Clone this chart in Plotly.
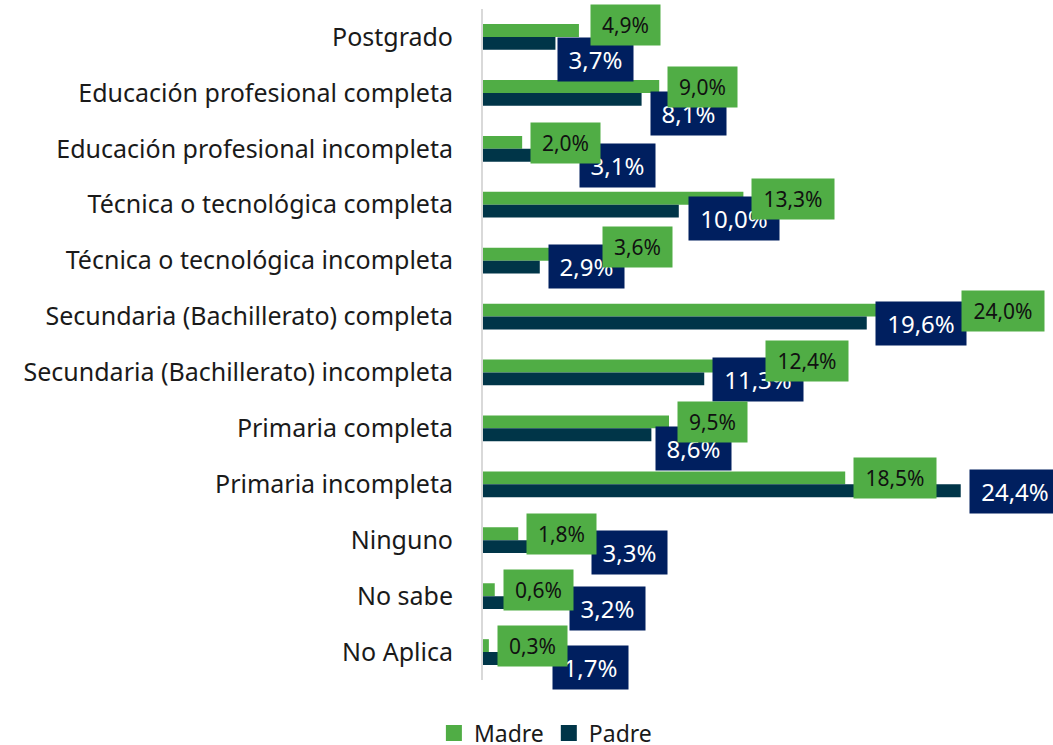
import plotly.graph_objects as go

categories = [
    "Postgrado",
    "Educación profesional completa",
    "Educación profesional incompleta",
    "Técnica o tecnológica completa",
    "Técnica o tecnológica incompleta",
    "Secundaria (Bachillerato) completa",
    "Secundaria (Bachillerato) incompleta",
    "Primaria completa",
    "Primaria incompleta",
    "Ninguno",
    "No sabe",
    "No Aplica",
]
madre = [4.9, 9.0, 2.0, 13.3, 3.6, 24.0, 12.4, 9.5, 18.5, 1.8, 0.6, 0.3]
padre = [3.7, 8.1, 3.1, 10.0, 2.9, 19.6, 11.3, 8.6, 24.4, 3.3, 3.2, 1.7]
series_names = ["Madre", "Padre"]

GREEN = "#50AD45"
TEAL = "#003548"
NAVY = "#001F5F"
FONT = "Noto Sans"

# label nudges (px: right, down) relative to default placement
madre_nudge = {
    "Postgrado": (3, -6),
    "Técnica o tecnológica incompleta": (41, -8),
    "Secundaria (Bachillerato) incompleta": (31, -5),
}
padre_nudge = {
    "Postgrado": (-6, 16),
    "Educación profesional completa": (0, 14),
    "Educación profesional incompleta": (27, 10),
    "Técnica o tecnológica completa": (1, 7),
    "Técnica o tecnológica incompleta": (0, -1),
    "Primaria completa": (-4, 13),
    "Ninguno": (35, 5),
    "No sabe": (15, 5),
    "No Aplica": (28, 8),
}


def fmt(v):
    return f"{v:.1f}%".replace(".", ",")


fig = go.Figure()
fig.add_trace(go.Bar(y=categories, x=madre, name=series_names[0], orientation="h",
                     showlegend=False, marker=dict(color=GREEN, line=dict(width=0))))
fig.add_trace(go.Bar(y=categories, x=padre, name=series_names[1], orientation="h",
                     showlegend=False, marker=dict(color=TEAL, line=dict(width=0))))
# legend entries with larger square swatches
for name, col in zip(series_names, [GREEN, TEAL]):
    fig.add_trace(go.Scatter(x=[None], y=[None], mode="markers", name=name,
                             marker=dict(symbol="square", size=16, color=col,
                                         line=dict(width=0))))

annotations = []
# Padre labels first (drawn beneath Madre labels)
for c, v in zip(categories, padre):
    dx, dy = padre_nudge.get(c, (0, 0))
    t = fmt(v)
    annotations.append(dict(
        x=v, y=c, xref="x", yref="y", text=t, showarrow=False,
        xanchor="left", yanchor="middle", xshift=8 + dx, yshift=-(7 + dy),
        bgcolor=NAVY, font=dict(family=FONT, size=24, color="white"),
        width=13 + 15 * len(t), height=41, align="center", valign="middle",
    ))
for c, v in zip(categories, madre):
    dx, dy = madre_nudge.get(c, (0, 0))
    t = fmt(v)
    annotations.append(dict(
        x=v, y=c, xref="x", yref="y", text=t, showarrow=False,
        xanchor="left", yanchor="middle", xshift=8 + dx, yshift=-(-6 + dy),
        bgcolor=GREEN, font=dict(family=FONT, size=21, color="#111111"),
        width=15 + 13 * len(t), height=38, align="center", valign="middle",
    ))

fig.update_layout(
    width=1053, height=745,
    margin=dict(l=483, r=12, t=9, b=65, autoexpand=False),
    paper_bgcolor="white", plot_bgcolor="white",
    barmode="group", bargap=0.54, bargroupgap=0,
    font=dict(family=FONT, size=25, color="#1a1a1a"),
    showlegend=True,
    legend=dict(orientation="h", x=-0.088, xanchor="left", y=-0.079, yanchor="middle",
                traceorder="normal", font=dict(size=23, color="#1a1a1a"),
                itemwidth=30),
    annotations=annotations,
)
fig.update_xaxes(range=[0, 28.5], autorange=False, visible=False,
                 showgrid=False, zeroline=False)
fig.update_yaxes(range=[11.5, -0.5], autorange=False, showgrid=False, zeroline=False,
                 showline=True, linecolor="#D9D9D9", linewidth=2,
                 ticks="", ticklabelstandoff=23)

fig.write_html(
    "out.html",
    config={"displayModeBar": False},
    post_script="document.body.style.margin='0';document.body.style.overflow='hidden';",
)
